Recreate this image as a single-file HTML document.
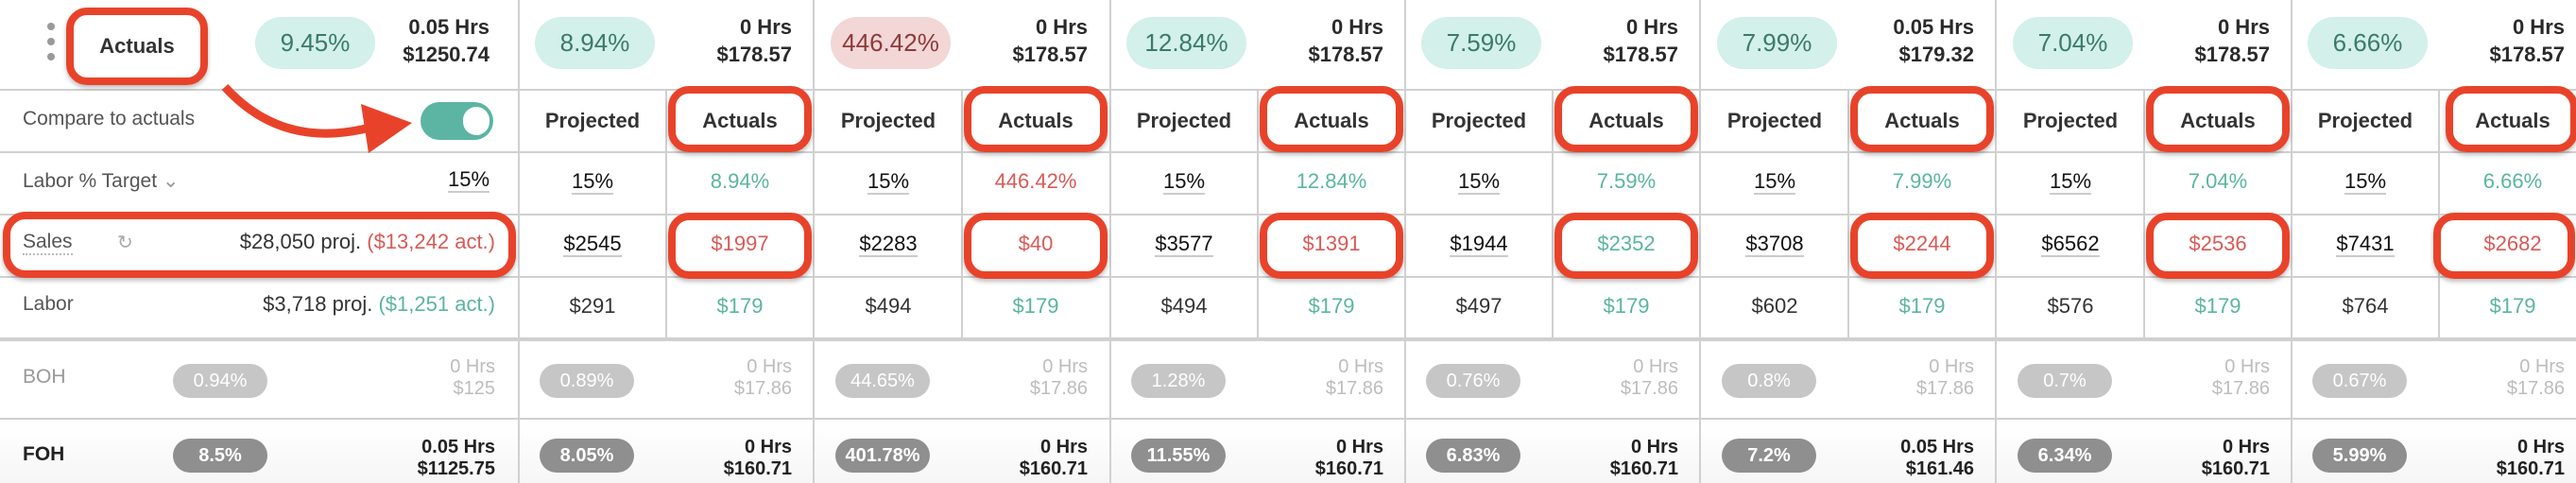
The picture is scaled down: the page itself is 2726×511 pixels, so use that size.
<!DOCTYPE html>
<html><head><meta charset="utf-8"><style>
*{margin:0;padding:0;box-sizing:border-box}
body{width:2726px;height:511px;overflow:hidden;background:#fff;font-family:"Liberation Sans",sans-serif;position:relative;color:#333}
.a{position:absolute}
.hl{position:absolute;left:0;width:2726px;height:2px;background:#d0d0d0}
.vl{position:absolute;width:2px;background:#d0d0d0}
.g{position:absolute;top:0;width:312px;height:511px}
.pill{position:absolute;left:17px;top:18px;width:127px;height:55px;border-radius:28px;background:#d3f0ea;color:#3a7a68;font-size:26px;text-align:center;line-height:55px}
.pill.r{background:#f3d6d6;color:#8c3b3b}
.ht{position:absolute;right:23px;width:160px;text-align:right;font-size:22px;font-weight:bold;color:#2a2a2a;line-height:29px}
.ht.h{top:14px}
.c{position:absolute;width:156px;text-align:center;font-size:22px;line-height:30px}
.c.p{left:0}.c.q{left:156px}
.b{font-weight:bold;color:#333}
.u{border-bottom:2px solid #ccc;color:#111}
.gr{color:#5ab5a0}.rd{color:#d95a56}
.box{position:absolute;left:158px;width:152px;border:8px solid #e8432a;border-radius:22px;box-shadow:0 3px 5px rgba(0,0,0,.25)}
.sp{position:absolute;left:22px;width:100px;height:36px;border-radius:18px;color:#fff;font-size:20px;text-align:center;line-height:36px}
.sp.b1{top:385px;background:#c6c6c6}
.sp.f1{top:464px;background:#8f8f8f;font-weight:bold}
.st{position:absolute;right:23px;width:150px;text-align:right;font-size:20px;line-height:23px}
.st.b1{top:377px;color:#bdbdbd}
.st.f1{top:462px;color:#222;font-weight:bold}
</style></head><body>
<div class="a" style="left:0;top:446px;width:2726px;height:65px;background:linear-gradient(#fff,#f6f6f6)"></div>
<div class="hl" style="top:94px"></div>
<div class="hl" style="top:160px"></div>
<div class="hl" style="top:226px"></div>
<div class="hl" style="top:292px"></div>
<div class="hl" style="top:357px;height:4px"></div>
<div class="hl" style="top:442px"></div>
<div class="vl" style="left:548px;top:0;height:511px"></div>
<div class="vl" style="left:860px;top:0;height:511px"></div>
<div class="vl" style="left:1174px;top:0;height:511px"></div>
<div class="vl" style="left:1486px;top:0;height:511px"></div>
<div class="vl" style="left:1798px;top:0;height:511px"></div>
<div class="vl" style="left:2111px;top:0;height:511px"></div>
<div class="vl" style="left:2424px;top:0;height:511px"></div>
<div class="vl" style="left:704px;top:95px;height:264px"></div>
<div class="vl" style="left:1017px;top:95px;height:264px"></div>
<div class="vl" style="left:1330px;top:95px;height:264px"></div>
<div class="vl" style="left:1642px;top:95px;height:264px"></div>
<div class="vl" style="left:1955px;top:95px;height:264px"></div>
<div class="vl" style="left:2268px;top:95px;height:264px"></div>
<div class="vl" style="left:2580px;top:95px;height:264px"></div>

<div class="a" style="left:50px;top:24px;width:8px;height:8px;border-radius:4px;background:#999"></div>
<div class="a" style="left:50px;top:40px;width:8px;height:8px;border-radius:4px;background:#999"></div>
<div class="a" style="left:50px;top:56px;width:8px;height:8px;border-radius:4px;background:#999"></div>
<div class="a" style="left:70px;top:8px;width:150px;height:82px;border:8px solid #e8432a;border-radius:22px;box-shadow:0 3px 5px rgba(0,0,0,.25);text-align:center;line-height:66px;font-size:22px;font-weight:bold;color:#333">Actuals</div>
<div class="pill" style="left:270px">9.45%</div>
<div class="ht h" style="right:auto;left:358px">0.05 Hrs<br>$1250.74</div>
<div class="a" style="left:24px;top:114px;font-size:21px;color:#555">Compare to actuals</div>
<svg class="a" style="left:0;top:0" width="549" height="200"><path d="M238 92 Q300 160 395 134" stroke="#e8432a" stroke-width="9" fill="none"/><polygon points="382,110 436,130 390,162" fill="#e8432a"/></svg>
<div class="a" style="left:445px;top:108px;width:77px;height:40px;border-radius:20px;background:#5bb5a2"></div>
<div class="a" style="left:490px;top:113px;width:28px;height:30px;border-radius:15px;background:#fff"></div>
<div class="a" style="left:24px;top:179px;font-size:21px;color:#555">Labor % Target <span style="color:#999">&#8964;</span></div>
<div class="a" style="left:474px;top:177px;font-size:22px"><span class="u">15%</span></div>
<div class="a" style="left:3px;top:224px;width:543px;height:70px;border:8px solid #e8432a;border-radius:24px;box-shadow:0 3px 5px rgba(0,0,0,.25)"></div>
<div class="a" style="left:24px;top:244px;font-size:21px;color:#555;border-bottom:2px dotted #bbb;line-height:24px">Sales</div>
<div class="a" style="left:124px;top:244px;font-size:20px;color:#aaa">&#8635;</div>
<div class="a" style="left:190px;top:243px;width:334px;text-align:right;font-size:22px;color:#333">$28,050 proj. <span class="rd">($13,242 act.)</span></div>
<div class="a" style="left:24px;top:310px;font-size:21px;color:#555">Labor</div>
<div class="a" style="left:190px;top:309px;width:334px;text-align:right;font-size:22px;color:#333">$3,718 proj. <span class="gr">($1,251 act.)</span></div>
<div class="a" style="left:24px;top:387px;font-size:21px;color:#999">BOH</div>
<div class="sp b1" style="left:183px">0.94%</div>
<div class="st b1" style="right:auto;left:374px">0 Hrs<br>$125</div>
<div class="a" style="left:24px;top:469px;font-size:21px;color:#222;font-weight:bold">FOH</div>
<div class="sp f1" style="left:183px">8.5%</div>
<div class="st f1" style="right:auto;left:374px">0.05 Hrs<br>$1125.75</div>

<div class="g" style="left:549px">
<div class="pill">8.94%</div><div class="ht h">0 Hrs<br>$178.57</div>
<div class="box" style="top:91px;height:70px"></div><div class="box" style="top:225px;height:70px"></div>
<div class="c p b" style="top:113px">Projected</div><div class="c q b" style="top:113px">Actuals</div>
<div class="c p" style="top:177px"><span class="u">15%</span></div><div class="c q gr" style="top:177px">8.94%</div>
<div class="c p" style="top:243px"><span class="u">$2545</span></div><div class="c q rd" style="top:243px">$1997</div>
<div class="c p" style="top:309px">$291</div><div class="c q gr" style="top:309px">$179</div>
<div class="sp b1">0.89%</div><div class="st b1">0 Hrs<br>$17.86</div>
<div class="sp f1">8.05%</div><div class="st f1">0 Hrs<br>$160.71</div>
</div>
<div class="g" style="left:862px">
<div class="pill r">446.42%</div><div class="ht h">0 Hrs<br>$178.57</div>
<div class="box" style="top:91px;height:70px"></div><div class="box" style="top:225px;height:70px"></div>
<div class="c p b" style="top:113px">Projected</div><div class="c q b" style="top:113px">Actuals</div>
<div class="c p" style="top:177px"><span class="u">15%</span></div><div class="c q rd" style="top:177px">446.42%</div>
<div class="c p" style="top:243px"><span class="u">$2283</span></div><div class="c q rd" style="top:243px">$40</div>
<div class="c p" style="top:309px">$494</div><div class="c q gr" style="top:309px">$179</div>
<div class="sp b1">44.65%</div><div class="st b1">0 Hrs<br>$17.86</div>
<div class="sp f1">401.78%</div><div class="st f1">0 Hrs<br>$160.71</div>
</div>
<div class="g" style="left:1175px">
<div class="pill">12.84%</div><div class="ht h">0 Hrs<br>$178.57</div>
<div class="box" style="top:91px;height:70px"></div><div class="box" style="top:225px;height:70px"></div>
<div class="c p b" style="top:113px">Projected</div><div class="c q b" style="top:113px">Actuals</div>
<div class="c p" style="top:177px"><span class="u">15%</span></div><div class="c q gr" style="top:177px">12.84%</div>
<div class="c p" style="top:243px"><span class="u">$3577</span></div><div class="c q rd" style="top:243px">$1391</div>
<div class="c p" style="top:309px">$494</div><div class="c q gr" style="top:309px">$179</div>
<div class="sp b1">1.28%</div><div class="st b1">0 Hrs<br>$17.86</div>
<div class="sp f1">11.55%</div><div class="st f1">0 Hrs<br>$160.71</div>
</div>
<div class="g" style="left:1487px">
<div class="pill">7.59%</div><div class="ht h">0 Hrs<br>$178.57</div>
<div class="box" style="top:91px;height:70px"></div><div class="box" style="top:225px;height:70px"></div>
<div class="c p b" style="top:113px">Projected</div><div class="c q b" style="top:113px">Actuals</div>
<div class="c p" style="top:177px"><span class="u">15%</span></div><div class="c q gr" style="top:177px">7.59%</div>
<div class="c p" style="top:243px"><span class="u">$1944</span></div><div class="c q gr" style="top:243px">$2352</div>
<div class="c p" style="top:309px">$497</div><div class="c q gr" style="top:309px">$179</div>
<div class="sp b1">0.76%</div><div class="st b1">0 Hrs<br>$17.86</div>
<div class="sp f1">6.83%</div><div class="st f1">0 Hrs<br>$160.71</div>
</div>
<div class="g" style="left:1800px">
<div class="pill">7.99%</div><div class="ht h">0.05 Hrs<br>$179.32</div>
<div class="box" style="top:91px;height:70px"></div><div class="box" style="top:225px;height:70px"></div>
<div class="c p b" style="top:113px">Projected</div><div class="c q b" style="top:113px">Actuals</div>
<div class="c p" style="top:177px"><span class="u">15%</span></div><div class="c q gr" style="top:177px">7.99%</div>
<div class="c p" style="top:243px"><span class="u">$3708</span></div><div class="c q rd" style="top:243px">$2244</div>
<div class="c p" style="top:309px">$602</div><div class="c q gr" style="top:309px">$179</div>
<div class="sp b1">0.8%</div><div class="st b1">0 Hrs<br>$17.86</div>
<div class="sp f1">7.2%</div><div class="st f1">0.05 Hrs<br>$161.46</div>
</div>
<div class="g" style="left:2113px">
<div class="pill">7.04%</div><div class="ht h">0 Hrs<br>$178.57</div>
<div class="box" style="top:91px;height:70px"></div><div class="box" style="top:225px;height:70px"></div>
<div class="c p b" style="top:113px">Projected</div><div class="c q b" style="top:113px">Actuals</div>
<div class="c p" style="top:177px"><span class="u">15%</span></div><div class="c q gr" style="top:177px">7.04%</div>
<div class="c p" style="top:243px"><span class="u">$6562</span></div><div class="c q rd" style="top:243px">$2536</div>
<div class="c p" style="top:309px">$576</div><div class="c q gr" style="top:309px">$179</div>
<div class="sp b1">0.7%</div><div class="st b1">0 Hrs<br>$17.86</div>
<div class="sp f1">6.34%</div><div class="st f1">0 Hrs<br>$160.71</div>
</div>
<div class="g" style="left:2425px">
<div class="pill">6.66%</div><div class="ht h">0 Hrs<br>$178.57</div>
<div class="box" style="top:91px;height:70px;width:140px;left:163px"></div><div class="box" style="top:225px;height:70px;width:150px;left:150px"></div>
<div class="c p b" style="top:113px">Projected</div><div class="c q b" style="top:113px">Actuals</div>
<div class="c p" style="top:177px"><span class="u">15%</span></div><div class="c q gr" style="top:177px">6.66%</div>
<div class="c p" style="top:243px"><span class="u">$7431</span></div><div class="c q rd" style="top:243px">$2682</div>
<div class="c p" style="top:309px">$764</div><div class="c q gr" style="top:309px">$179</div>
<div class="sp b1">0.67%</div><div class="st b1">0 Hrs<br>$17.86</div>
<div class="sp f1">5.99%</div><div class="st f1">0 Hrs<br>$160.71</div>
</div>
</body></html>
